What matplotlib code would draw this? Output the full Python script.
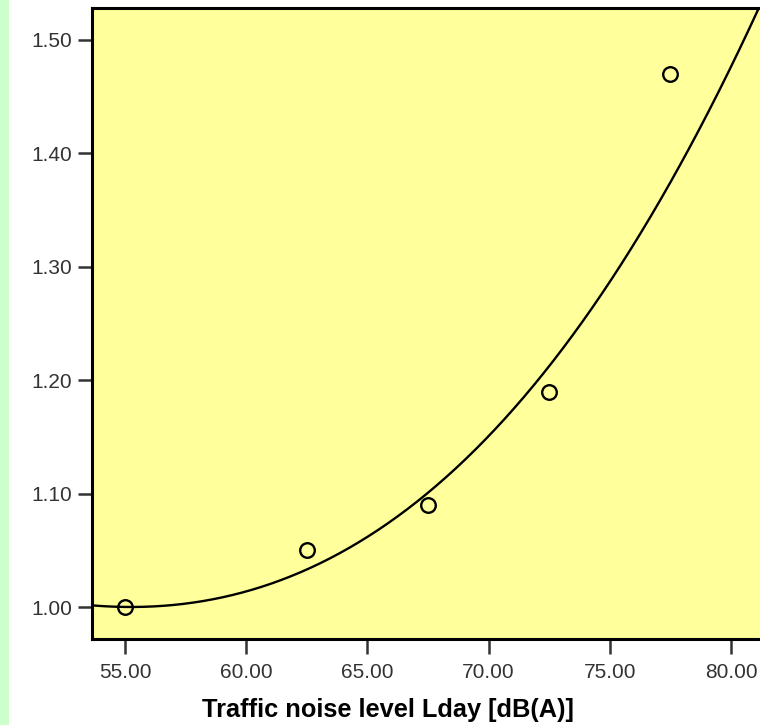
import matplotlib
matplotlib.use("Agg")
import matplotlib.pyplot as plt
import matplotlib.patches as mpatches
import numpy as np

# observed points
noise_level = [55.0, 62.5, 67.5, 72.5, 77.5]
ratio = [1.00, 1.05, 1.09, 1.19, 1.47]

# fitted curve at a few places
curve_x = [53.6, 55.0, 61.8, 64.9, 65.5, 72.7, 75.6, 81.1]
curve_y = [1.0027, 0.999, 1.027, 1.059, 1.071, 1.218, 1.306, 1.526]

xticks = [55, 60, 65, 70, 75, 80]
yticks = [1.00, 1.10, 1.20, 1.30, 1.40, 1.50]

W, H = 760, 725
fig = plt.figure(figsize=(W / 100, H / 100), dpi=100)
fig.patch.set_facecolor('white')
# light green strip on the left
fig.patches.append(mpatches.Rectangle((0, 0), 9 / W, 1, transform=fig.transFigure,
                                      facecolor='#ccffcc', edgecolor='none'))

left, right, top, bottom = 92, 779.5, 8, 639
ax = fig.add_axes([left / W, 1 - bottom / H, (right - left) / W, (bottom - top) / H])
ax.set_facecolor('#ffff9c')

coef = np.polyfit(curve_x, curve_y, 3)
xs = np.linspace(53.0, 83.0, 300)
ax.plot(xs, np.polyval(coef, xs), color='black', lw=1.7)
ax.plot(noise_level, ratio, 'o', mfc='none', mec='black', ms=10.5, mew=1.7)

ax.set_xlim(53.64, 82.0)
ax.set_ylim(0.972, 1.528)
ax.set_xticks(xticks)
ax.set_yticks(yticks)
ax.set_xticklabels(['%.2f' % v for v in xticks])
ax.set_yticklabels(['%.2f' % v for v in yticks])

for s in ax.spines.values():
    s.set_linewidth(2.2)
    s.set_color('black')
ax.spines['right'].set_visible(False)

ax.tick_params(axis='x', direction='out', length=11, width=1.8, color='#333333',
               labelsize=15, labelcolor='#333333', pad=6)
ax.tick_params(axis='y', direction='out', length=10, width=1.8, color='#333333',
               labelsize=15, labelcolor='#333333', pad=4.5)
for lab in ax.get_xticklabels() + ax.get_yticklabels():
    lab.set_family('Liberation Sans')

fig.text(388 / W, 1 - 710 / H, 'Traffic noise level Lday [dB(A)]', ha='center', va='center',
         fontsize=18.3, fontweight='bold', family='Liberation Sans', color='black')

fig.savefig('out.png', dpi=100, facecolor=fig.get_facecolor())
